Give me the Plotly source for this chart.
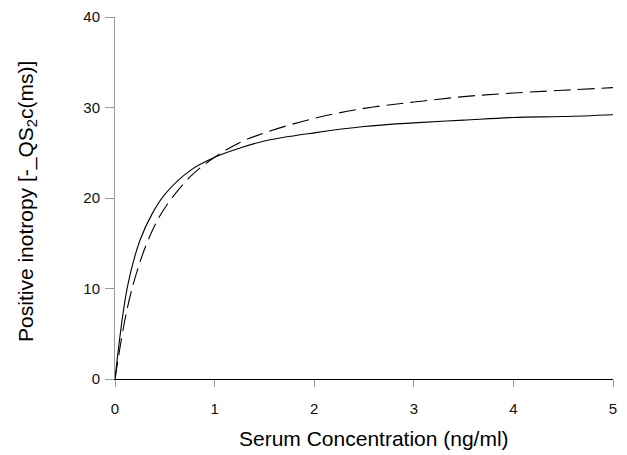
import plotly.graph_objects as go

conc = [0, 0.125, 0.25, 0.375, 0.5, 0.75, 1, 1.25, 1.5, 2, 2.5, 3, 3.5, 4, 4.5, 5]
solid_vals = [0, 10.2, 15.3, 18.3, 20.4, 23.0, 24.5, 25.5, 26.3, 27.2, 27.9, 28.3, 28.6, 28.9, 29.0, 29.2]
dashed_vals = [0, 7.9, 12.9, 16.4, 18.9, 22.3, 24.5, 26.1, 27.2, 28.8, 29.9, 30.6, 31.2, 31.6, 31.9, 32.2]
x_ticks = [0, 1, 2, 3, 4, 5]
y_ticks = [0, 10, 20, 30, 40]
x_title = "Serum Concentration (ng/ml)"
y_title = "Positive inotropy [-_QS<sub>2</sub>c(ms)]"

fig = go.Figure()
fig.add_trace(go.Scatter(x=conc, y=solid_vals, mode="lines",
                         line=dict(color="black", width=1.1, shape="spline"),
                         showlegend=False))
fig.add_trace(go.Scatter(x=conc, y=dashed_vals, mode="lines",
                         line=dict(color="black", width=1.1, dash="17px,7px", shape="spline"),
                         showlegend=False))

font_family = "Liberation Sans, Arial, sans-serif"
# the page body has an 8px default margin, so the figure is offset by 8px
fig.update_layout(
    width=619, height=447,
    margin=dict(l=107, r=14, t=9, b=76),
    paper_bgcolor="white", plot_bgcolor="white",
    font=dict(family=font_family, color="black"),
    xaxis=dict(range=[0, 5], tickvals=x_ticks, ticks="outside", ticklen=7,
               tickcolor="#999999", tickwidth=1, showline=True, linecolor="black",
               linewidth=1.2, showgrid=False, zeroline=False, automargin=False,
               tickfont=dict(size=15, color="#111111"), ticklabelstandoff=9),
    yaxis=dict(range=[0, 40], tickvals=y_ticks, ticks="outside", ticklen=9,
               tickcolor="#999999", tickwidth=1, showline=True, linecolor="#999999",
               linewidth=1, showgrid=False, zeroline=False, automargin=False,
               tickfont=dict(size=15, color="#111111"), ticklabelstandoff=2),
    annotations=[
        dict(text=x_title, xref="paper", yref="paper", x=0.52, y=-0.165,
             xanchor="center", yanchor="middle", showarrow=False,
             font=dict(size=21, color="black")),
        dict(text=y_title, xref="paper", yref="paper", x=-0.178, y=0.49,
             xanchor="center", yanchor="middle", textangle=-90, showarrow=False,
             font=dict(size=21, color="black")),
    ],
)

fig.write_html("out.html")
